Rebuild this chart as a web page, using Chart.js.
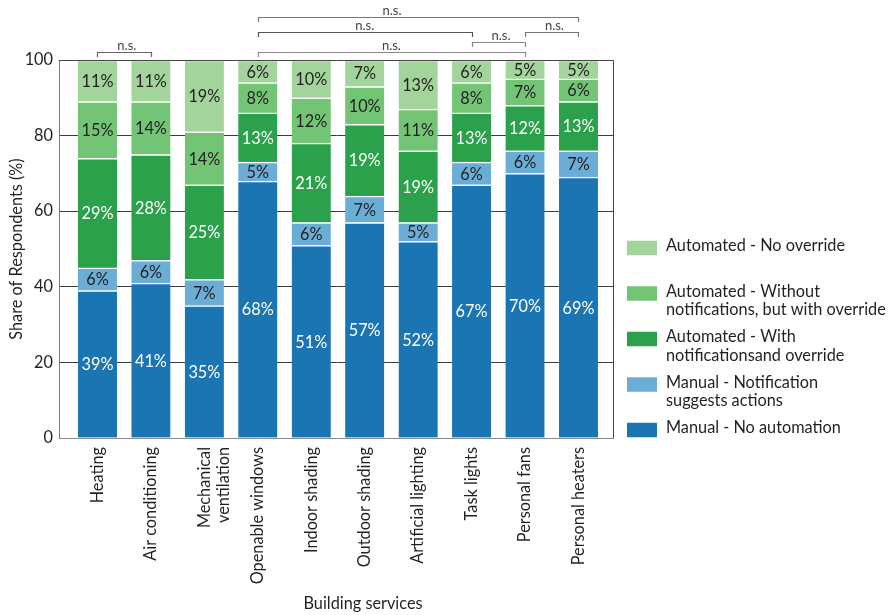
<!DOCTYPE html>
<html>
<head>
<meta charset="utf-8">
<script src="https://cdn.jsdelivr.net/npm/chart.js@4/dist/chart.umd.min.js"></script>
<style>
  html, body { margin: 0; padding: 0; background: #fff; }
  #wrap { width: 889px; height: 615px; position: relative; }
</style>
</head>
<body>
<div id="wrap"><canvas id="chart" width="889" height="615"></canvas></div>
<script>
// Building services surveyed
const SERVICES = ['Heating', 'Air conditioning', ['Mechanical', 'ventilation'], 'Openable windows',
  'Indoor shading', 'Outdoor shading', 'Artificial lighting', 'Task lights', 'Personal fans', 'Personal heaters'];

// Share of respondents (%) per preferred control mode, bottom to top of each stack
const MANUAL_NO_AUTOMATION   = [39, 41, 35, 68, 51, 57, 52, 67, 70, 69];
const MANUAL_NOTIFICATION    = [ 6,  6,  7,  5,  6,  7,  5,  6,  6,  7];
const AUTO_NOTIFY_OVERRIDE   = [29, 28, 25, 13, 21, 19, 19, 13, 12, 13];
const AUTO_SILENT_OVERRIDE   = [15, 14, 14,  8, 12, 10, 11,  8,  7,  6];
const AUTO_NO_OVERRIDE       = [11, 11, 19,  6, 10,  7, 13,  6,  5,  5];

const Y_TICKS = [0, 20, 40, 60, 80, 100];

// Legend wording (line breaks as laid out in the legend)
const SERIES_NAMES = [
  ['Manual - No automation'],
  ['Manual - Notification', 'suggests actions'],
  ['Automated - With', 'notificationsand override'],
  ['Automated - Without', 'notifications, but with override'],
  ['Automated - No override']
];

// Pairwise comparisons marked "n.s." above the bars (category indices)
const COMPARISONS = [
  { from: 0, to: 1, label: 'n.s.' },
  { from: 3, to: 9, label: 'n.s.' },
  { from: 3, to: 7, label: 'n.s.' },
  { from: 3, to: 8, label: 'n.s.' },
  { from: 7, to: 8, label: 'n.s.' },
  { from: 8, to: 9, label: 'n.s.' }
];

const FONT = 'Lato, "Open Sans", sans-serif';
const FONT_SIZE = 16.3;
const COLORS = ['#1b75b3', '#6aaed6', '#2ba14b', '#74c476', '#a2d49c'];
const LABEL_COLORS = ['#ffffff', '#231f20', '#ffffff', '#231f20', '#231f20'];
const SERIES = [MANUAL_NO_AUTOMATION, MANUAL_NOTIFICATION, AUTO_NOTIFY_OVERRIDE, AUTO_SILENT_OVERRIDE, AUTO_NO_OVERRIDE];

// bracket placement: height above the axis top (value units), label nudge (category units)
const BRACKET_STYLE = [
  { level: 102.2, shift: 0.05, color: '#666' },
  { level: 111.5, shift: -0.49, color: '#777' },
  { level: 107.5, shift: 0, color: '#555' },
  { level: 102.2, shift: 0, color: '#888' },
  { level: 104.8, shift: 0.05, color: '#888' },
  { level: 107.5, shift: 0.05, color: '#777' }
];

const datasets = SERIES.map((vals, s) => ({
  label: SERIES_NAMES[s].join(' '),
  data: vals.map((v, i) => ({ x: i, y: v })),
  backgroundColor: COLORS[s],
  borderColor: 'rgba(255,255,255,0.85)',
  borderWidth: { top: 1.5, bottom: 0, left: 0, right: 0 },
  borderSkipped: false,
  barThickness: 39
}));

const decorations = {
  id: 'decorations',
  afterDatasetsDraw(chart) {
    const ctx = chart.ctx;
    ctx.save();
    ctx.font = FONT_SIZE + 'px ' + FONT;
    ctx.textAlign = 'center';
    ctx.textBaseline = 'middle';
    chart.data.datasets.forEach((ds, s) => {
      const meta = chart.getDatasetMeta(s);
      meta.data.forEach((el, i) => {
        const p = el.getProps(['x', 'y', 'base'], true);
        ctx.fillStyle = LABEL_COLORS[s];
        ctx.fillText(ds.data[i].y + '%', p.x, (p.y + p.base) / 2 + 1);
      });
    });
    ctx.restore();
  },
  afterDraw(chart) {
    const ctx = chart.ctx;
    const xs = chart.scales.x, ys = chart.scales.y;
    const area = chart.chartArea;
    ctx.save();

    // top and right frame lines
    ctx.strokeStyle = '#444';
    ctx.lineWidth = 1;
    ctx.beginPath();
    ctx.moveTo(area.left, Math.round(area.top) + 0.5);
    ctx.lineTo(Math.round(area.right) + 0.5, Math.round(area.top) + 0.5);
    ctx.lineTo(Math.round(area.right) + 0.5, area.bottom);
    ctx.stroke();

    // significance brackets
    ctx.font = '13px ' + FONT;
    ctx.textAlign = 'center';
    ctx.textBaseline = 'middle';
    COMPARISONS.forEach((c, k) => {
      const st = BRACKET_STYLE[k];
      const x1 = Math.round(xs.getPixelForValue(c.from)) + 0.5;
      const x2 = Math.round(xs.getPixelForValue(c.to)) + 0.5;
      const y = Math.round(ys.getPixelForValue(st.level)) + 0.5;
      ctx.strokeStyle = st.color;
      ctx.lineWidth = 1.2;
      ctx.beginPath();
      ctx.moveTo(x1, y + 4.5);
      ctx.lineTo(x1, y);
      ctx.lineTo(x2, y);
      ctx.lineTo(x2, y + 4.5);
      ctx.stroke();
      ctx.fillStyle = '#444';
      const mid = (c.from + c.to) / 2 + st.shift;
      ctx.fillText(c.label, xs.getPixelForValue(mid), y - 7);
    });

    // axis titles
    ctx.fillStyle = '#231f20';
    ctx.font = FONT_SIZE + 'px ' + FONT;
    ctx.textAlign = 'center';
    ctx.textBaseline = 'middle';
    ctx.fillText('Building services', 363, 604);
    ctx.save();
    ctx.translate(17, (area.top + area.bottom) / 2);
    ctx.rotate(-Math.PI / 2);
    ctx.fillText('Share of Respondents (%)', 0, 0);
    ctx.restore();

    // legend, top entry = top of stack
    const boxX = 627, boxW = 30, boxH = 14.5, textX = 666;
    const firstCenter = 248, step = 45.5, lineGap = 18.5;
    ctx.textAlign = 'left';
    for (let r = 0; r < SERIES_NAMES.length; r++) {
      const s = SERIES_NAMES.length - 1 - r;
      const cy = firstCenter + r * step;
      ctx.fillStyle = COLORS[s];
      ctx.fillRect(boxX, cy - boxH / 2, boxW, boxH);
      ctx.fillStyle = '#231f20';
      SERIES_NAMES[s].forEach((line, j) => {
        ctx.fillText(line, textX, cy - 2 + j * lineGap);
      });
    }
    ctx.restore();
  }
};

new Chart(document.getElementById('chart'), {
  type: 'bar',
  data: { datasets },
  options: {
    responsive: false,
    animation: false,
    events: [],
    layout: { padding: { top: 60, right: 276, left: 0, bottom: 0 } },
    plugins: { legend: { display: false }, tooltip: { enabled: false } },
    scales: {
      x: {
        type: 'linear',
        stacked: true,
        offset: false,
        min: -0.72,
        max: 9.646,
        afterBuildTicks: (scale) => { scale.ticks = SERVICES.map((_, i) => ({ value: i })); },
        afterFit: (scale) => { scale.height = 177; scale.paddingLeft = 0; scale.paddingRight = 0; },
        grid: { display: false, drawTicks: false },
        border: { display: true, color: '#8a8a8a', width: 1 },
        ticks: {
          autoSkip: false,
          minRotation: 90,
          maxRotation: 90,
          padding: 9,
          color: '#231f20',
          font: { family: FONT, size: FONT_SIZE },
          callback: (v) => SERVICES[v]
        }
      },
      y: {
        stacked: true,
        min: 0,
        max: 100,
        afterBuildTicks: (scale) => { scale.ticks = Y_TICKS.map(v => ({ value: v })); },
        afterFit: (scale) => { scale.width = 59; scale.paddingTop = 0; scale.paddingBottom = 0; },
        grid: {
          drawTicks: false,
          color: (c) => (c.tick && (c.tick.value === 0 || c.tick.value === 100)) ? 'rgba(0,0,0,0)' : '#3c3c3c',
          lineWidth: 1
        },
        border: { display: true, color: '#7a7a7a', width: 1 },
        ticks: {
          padding: 6,
          color: '#231f20',
          font: { family: FONT, size: FONT_SIZE }
        }
      }
    }
  },
  plugins: [decorations]
});
</script>
</body>
</html>
